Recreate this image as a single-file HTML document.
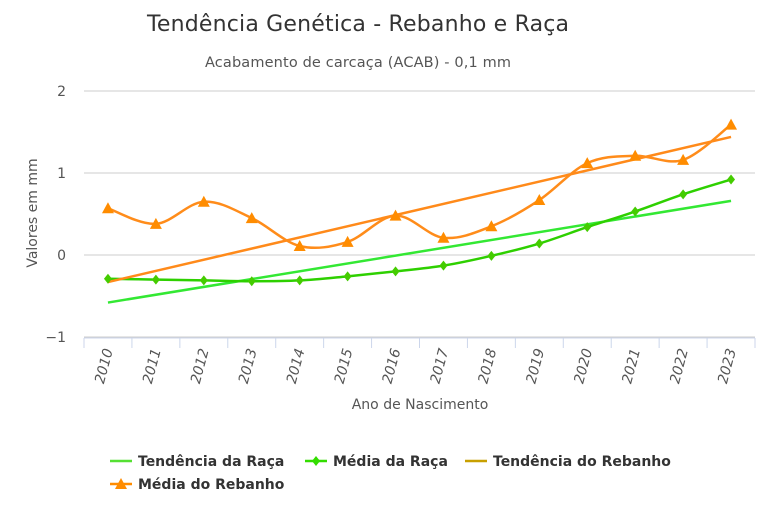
<!DOCTYPE html>
<html><head><meta charset="utf-8"><style>
body{margin:0;background:#fff;font-family:"DejaVu Sans","Liberation Sans",sans-serif}
svg text{font-family:"DejaVu Sans","Liberation Sans",sans-serif}
</style></head><body>
<svg id="chart" width="768" height="512" xmlns="http://www.w3.org/2000/svg">
<text x="358" y="31" text-anchor="middle" font-size="22" textLength="422" fill="#333">Tendência Genética - Rebanho e Raça</text>
<text x="358" y="67" text-anchor="middle" font-size="14.5" textLength="306" fill="#555">Acabamento de carcaça (ACAB) - 0,1 mm</text>
<text transform="translate(37,213) rotate(-90)" text-anchor="middle" font-size="14" fill="#555">Valores em mm</text>
<text x="420" y="409" text-anchor="middle" font-size="14" fill="#555">Ano de Nascimento</text>
<g id="grid"></g><g id="series"></g><g id="legend"></g>
</svg>
<script>
const years=["2010","2011","2012","2013","2014","2015","2016","2017","2018","2019","2020","2021","2022","2023"];
const herdMean=[0.57,0.38,0.65,0.45,0.11,0.16,0.48,0.21,0.35,0.67,1.12,1.21,1.16,1.59];
const breedMean=[-0.29,-0.30,-0.31,-0.32,-0.31,-0.26,-0.20,-0.13,-0.01,0.14,0.34,0.53,0.74,0.92];
const herdTrend=[-0.33,1.44];
const breedTrend=[-0.58,0.66];
const yTicks=[-1,0,1,2];
const NS="http://www.w3.org/2000/svg";
const L=84,R=755,step=(R-L)/years.length;
const x=i=>L+step*(i+0.5);
const y=v=>255-v*82;
function mk(t,a,p){const e=document.createElementNS(NS,t);for(const k in a)e.setAttribute(k,a[k]);(p||document.getElementById('series')).appendChild(e);return e;}
const g=document.getElementById('grid');
yTicks.forEach(t=>{
 const l=mk('line',{x1:L,x2:R,y1:y(t),y2:y(t),stroke:'#ccc','stroke-width':1},g);
 
 
 const tx=mk('text',{x:66,y:y(t)+5,'text-anchor':'end','font-size':14,fill:'#555'},g);
 tx.textContent=t<0?'−'+(-t):t;
 
 
});
const ax=mk('line',{x1:L,x2:R,y1:338,y2:338,stroke:'#ccd6eb'},g);


for(let i=0;i<=years.length;i++){const tk=mk('line',{x1:L+step*i,x2:L+step*i,y1:338,y2:348,stroke:'#ccd6eb'},g);
 
 }
years.forEach((yr,i)=>{
 const tx=mk('text',{transform:`translate(${x(i)+5},${350}) rotate(-75)`,'text-anchor':'end','font-size':14,fill:'#555','font-style':'italic'},g);
 tx.textContent=yr;
 
 
});
function spline(vals){
 const p=vals.map((v,i)=>[x(i),y(v)]);let d=`M${p[0][0]},${p[0][1]}`;
 for(let i=0;i<p.length-1;i++){const p0=p[i-1]||p[i],p1=p[i],p2=p[i+1],p3=p[i+2]||p2;const s=6;
  d+=`C${p1[0]+(p2[0]-p0[0])/s},${p1[1]+(p2[1]-p0[1])/s} ${p2[0]-(p3[0]-p1[0])/s},${p2[1]-(p3[1]-p1[1])/s} ${p2[0]},${p2[1]}`;}
 return d;
}
const n=years.length-1;
let e=mk('line',{x1:x(0),y1:y(breedTrend[0]),x2:x(n),y2:y(breedTrend[1]),stroke:'#33e833','stroke-width':2.5});

e=mk('path',{d:spline(breedMean),fill:'none',stroke:'#2ed000','stroke-width':2.5});

e=mk('line',{x1:x(0),y1:y(herdTrend[0]),x2:x(n),y2:y(herdTrend[1]),stroke:'#ff8a1a','stroke-width':2.5});

e=mk('path',{d:spline(herdMean),fill:'none',stroke:'#ff8c1a','stroke-width':2.5});

breedMean.forEach((v,i)=>{const cx=x(i),cy=y(v);
 const m=mk('path',{d:`M${cx},${cy-5}L${cx+4},${cy}L${cx},${cy+5}L${cx-4},${cy}Z`,fill:'#44cc00'});
 });
herdMean.forEach((v,i)=>{const cx=x(i),cy=y(v);
 const m=mk('path',{d:`M${cx},${cy-6}L${cx+6},${cy+5}L${cx-6},${cy+5}Z`,fill:'#ff8c00'});
 });
const lg=document.getElementById('legend');
const items=[["Tendência da Raça",110,461,'#55e033',null,'legend-breed-trend'],["Média da Raça",305,461,'#33dd00','d','legend-breed-mean'],["Tendência do Rebanho",465,461,'#c8a000',null,'legend-herd-trend'],["Média do Rebanho",110,484,'#ff8c00','t','legend-herd-mean']];
items.forEach(([t,lx,ly,c,mkT,nm])=>{
 const gi=mk('g',{},lg);
 mk('line',{x1:lx,x2:lx+22,y1:ly,y2:ly,stroke:c,'stroke-width':2.5},gi);
 if(mkT==='d')mk('path',{d:`M${lx+11},${ly-5}L${lx+15},${ly}L${lx+11},${ly+5}L${lx+7},${ly}Z`,fill:c},gi);
 if(mkT==='t')mk('path',{d:`M${lx+11},${ly-6}L${lx+17},${ly+5}L${lx+5},${ly+5}Z`,fill:c},gi);
 const tx=mk('text',{x:lx+28,y:ly+5,'font-size':14,'font-weight':'bold',fill:'#333'},gi);tx.textContent=t;
});
</script>
</body></html>
